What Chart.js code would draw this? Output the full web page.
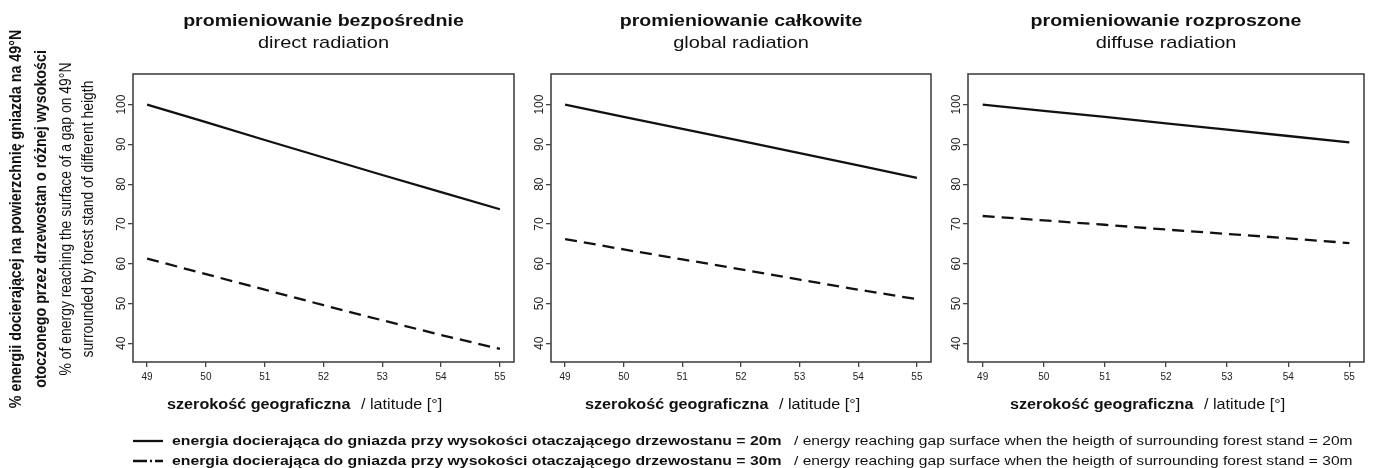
<!DOCTYPE html>
<html>
<head>
<meta charset="utf-8">
<script src="https://cdn.jsdelivr.net/npm/chart.js@4.4.1/dist/chart.umd.min.js"></script>
<style>
html,body{margin:0;padding:0;background:#fff;}
#wrap{position:relative;width:1373px;height:468px;overflow:hidden;background:#fff;}
canvas{position:absolute;}
#txt{position:absolute;left:0;top:0;}
</style>
</head>
<body>
<div id="wrap">
<canvas id="c1"></canvas>
<canvas id="c2"></canvas>
<canvas id="c3"></canvas>
<svg id="txt" width="1373" height="468" xmlns="http://www.w3.org/2000/svg"></svg>
</div>
<script>
// ---- data ----
const latitudes = [49, 50, 51, 52, 53, 54, 55];
const xTicks = [49, 50, 51, 52, 53, 54, 55];
const yTicks = [40, 50, 60, 70, 80, 90, 100];

const direct20  = [100, 95.6, 91.1, 86.7, 82.3, 78.0, 73.7];
const direct30  = [61.3, 57.4, 53.5, 49.6, 45.8, 42.1, 38.6];
const global20  = [100, 96.9, 93.9, 90.9, 87.8, 84.7, 81.6];
const global30  = [66.2, 63.6, 61.1, 58.6, 56.0, 53.5, 51.1];
const diffuse20 = [100, 98.4, 96.9, 95.3, 93.7, 92.1, 90.5];
const diffuse30 = [72.0, 70.9, 69.8, 68.6, 67.5, 66.4, 65.2];

const titlesPL = ["promieniowanie bezpośrednie", "promieniowanie całkowite", "promieniowanie rozproszone"];
const titlesEN = ["direct radiation", "global radiation", "diffuse radiation"];
const xTitlePL = "szerokość geograficzna";
const xTitleEN = "/ latitude [°]";
const yTitlePL = ["% energii docierającej na powierzchnię gniazda na 49°N", "otoczonego przez drzewostan o różnej wysokości"];
const yTitleEN = ["% of energy reaching the surface of a gap on 49°N", "surrounded by forest stand of different heigth"];
const legendPL = ["energia docierająca do gniazda przy wysokości otaczającego drzewostanu = 20m",
                  "energia docierająca do gniazda przy wysokości otaczającego drzewostanu = 30m"];
const legendEN = ["/ energy reaching gap surface when the heigth of surrounding forest stand = 20m",
                  "/ energy reaching gap surface when the heigth of surrounding forest stand = 30m"];

// ---- layout ----
const FONT = '"Liberation Sans", Arial, Helvetica, sans-serif';
const TOP = 74, BOTTOM = 362, YAXW = 33, XAXH = 22, PADT = 5, PADR = 3;
const XMIN = 48.76, XMAX = 55.24, YMIN = 35.32, YMAX = 107.68;
const panels = [
  {id: 'c1', left: 133, right: 514, s20: direct20, s30: direct30, xtl: 167},
  {id: 'c2', left: 551, right: 931, s20: global20, s30: global30, xtl: 585},
  {id: 'c3', left: 968, right: 1364, s20: diffuse20, s30: diffuse30, xtl: 1010}
];

const framePlugin = {
  id: 'frame',
  afterDatasetsDraw(chart) {
    const a = chart.chartArea, ctx = chart.ctx;
    ctx.save();
    ctx.strokeStyle = '#444';
    ctx.lineWidth = 1.6;
    ctx.strokeRect(a.left, a.top, a.right - a.left, a.bottom - a.top);
    ctx.restore();
  }
};

function gridOpts() {
  return {display: true, drawOnChartArea: false, drawTicks: true, tickLength: 5, color: '#444', lineWidth: 1.3};
}

panels.forEach(p => {
  const cv = document.getElementById(p.id);
  const w = p.right - p.left + YAXW + PADR;
  const h = BOTTOM - TOP + PADT + XAXH;
  cv.width = w; cv.height = h;
  cv.style.left = (p.left - YAXW) + 'px';
  cv.style.top = (TOP - PADT) + 'px';
  cv.style.width = w + 'px'; cv.style.height = h + 'px';
  new Chart(cv, {
    type: 'line',
    data: {
      datasets: [
        {data: latitudes.map((x, i) => ({x: x, y: p.s20[i]})), borderColor: '#111', borderWidth: 2.3,
         pointRadius: 0, tension: 0, fill: false},
        {data: latitudes.map((x, i) => ({x: x, y: p.s30[i]})), borderColor: '#111', borderWidth: 2.3,
         borderDash: [12, 7], pointRadius: 0, tension: 0, fill: false}
      ]
    },
    options: {
      responsive: false, animation: false, devicePixelRatio: 1,
      layout: {padding: {top: PADT, right: PADR, left: 0, bottom: 0}},
      plugins: {legend: {display: false}, tooltip: {enabled: false}, title: {display: false}},
      scales: {
        x: {
          type: 'linear', min: XMIN, max: XMAX,
          afterBuildTicks: s => { s.ticks = xTicks.map(v => ({value: v})); },
          afterFit: s => { s.height = XAXH; },
          grid: gridOpts(), border: {display: false},
          ticks: {font: {family: FONT, size: 10}, color: '#222', padding: 4, maxRotation: 0, minRotation: 0, autoSkip: false}
        },
        y: {
          type: 'linear', min: YMIN, max: YMAX,
          afterBuildTicks: s => { s.ticks = yTicks.map(v => ({value: v})); },
          afterFit: s => { s.width = YAXW; },
          grid: gridOpts(), border: {display: false},
          ticks: {font: {family: FONT, size: 12}, color: '#222', minRotation: 90, maxRotation: 90,
                  crossAlign: 'center', padding: -4, autoSkip: false}
        }
      }
    },
    plugins: [framePlugin]
  });
});

// ---- text (real SVG text) ----
const svg = document.getElementById('txt');
const NS = 'http://www.w3.org/2000/svg';
function addText(o) {
  const t = document.createElementNS(NS, 'text');
  t.setAttribute('x', 0); t.setAttribute('y', 0);
  t.setAttribute('font-family', FONT);
  t.setAttribute('font-size', o.size);
  t.setAttribute('font-weight', o.bold ? 'bold' : 'normal');
  t.setAttribute('fill', '#111');
  t.setAttribute('text-anchor', o.anchor || 'start');
  if (o.rot) {
    t.setAttribute('dominant-baseline', 'central');
    t.setAttribute('transform', `translate(${o.x},${o.y}) rotate(-90) scale(0.85,1)`);
  } else {
    t.setAttribute('transform', `translate(${o.x},${o.y}) scale(1,0.85)`);
  }
  t.textContent = o.txt;
  svg.appendChild(t);
  return t;
}

panels.forEach((p, i) => {
  const cx = (p.left + p.right) / 2;
  addText({x: cx, y: 26, txt: titlesPL[i], size: 19.6, bold: true, anchor: 'middle'});
  addText({x: cx, y: 48, txt: titlesEN[i], size: 20, anchor: 'middle'});
  addText({x: p.xtl, y: 409, txt: xTitlePL, size: 16.2, bold: true});
  addText({x: p.xtl + 194, y: 409, txt: xTitleEN, size: 16.2});
});

addText({x: 15, y: 219, txt: yTitlePL[0], size: 16.8, bold: true, anchor: 'middle', rot: true});
addText({x: 40, y: 219, txt: yTitlePL[1], size: 16.8, bold: true, anchor: 'middle', rot: true});
addText({x: 65, y: 219, txt: yTitleEN[0], size: 16.4, anchor: 'middle', rot: true});
addText({x: 87, y: 219, txt: yTitleEN[1], size: 16.4, anchor: 'middle', rot: true});

// legend
const legY = [445, 465];
const sampleY = [441, 461];
function addLine(y, dash) {
  const l = document.createElementNS(NS, 'line');
  l.setAttribute('x1', 133); l.setAttribute('x2', 163);
  l.setAttribute('y1', y); l.setAttribute('y2', y);
  l.setAttribute('stroke', '#111'); l.setAttribute('stroke-width', 2.3);
  if (dash) l.setAttribute('stroke-dasharray', dash);
  svg.appendChild(l);
}
addLine(sampleY[0], null);
addLine(sampleY[1], '14 3 2 3 8');
for (let i = 0; i < 2; i++) {
  addText({x: 172, y: legY[i], txt: legendPL[i], size: 15.8, bold: true});
  addText({x: 794, y: legY[i], txt: legendEN[i], size: 15.6});
}
</script>
</body>
</html>
